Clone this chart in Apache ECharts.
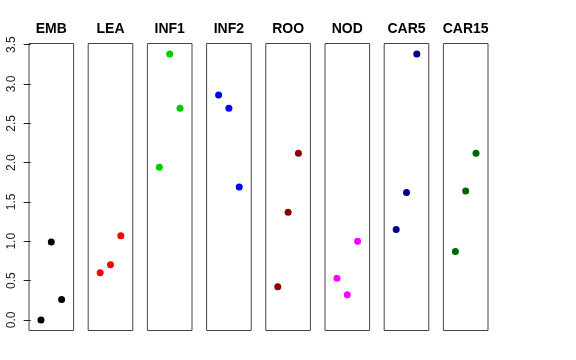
<!DOCTYPE html>
<html>
<head>
<meta charset="utf-8">
<script src="https://cdn.jsdelivr.net/npm/echarts@6/dist/echarts.min.js"></script>
<style>html,body{margin:0;padding:0;background:#fff;}#c{width:576px;height:360px;}</style>
</head>
<body>
<div id="c"></div>
<script>
const categories = ['EMB','LEA','INF1','INF2','ROO','NOD','CAR5','CAR15'];
const xPositions = [1, 2, 3];
const embValues  = [0.00, 0.99, 0.26];
const leaValues  = [0.60, 0.70, 1.07];
const inf1Values = [1.94, 3.38, 2.69];
const inf2Values = [2.86, 2.69, 1.69];
const rooValues  = [0.42, 1.37, 2.12];
const nodValues  = [0.53, 0.32, 1.00];
const car5Values = [1.15, 1.62, 3.38];
const car15Values= [0.87, 1.64, 2.12];
const yTicks = [0, 0.5, 1.0, 1.5, 2.0, 2.5, 3.0, 3.5];
const colors = ['#000000','#FF0000','#00CD00','#0000FF','#8B0000','#FF00FF','#00008B','#006400'];

const allValues = [embValues, leaValues, inf1Values, inf2Values, rooValues, nodValues, car5Values, car15Values];

(function () {
const chart = echarts.init(document.getElementById('c'), null, {renderer:'canvas'});
const grids = [], xAxes = [], yAxes = [], series = [], titles = [];
const left0 = 29, stride = 59.2, gw = 44.6, gTop = 43.5, gh = 287;
const yMin = -0.135, yMax = 3.515;
categories.forEach((cat, i) => {
  const l = left0 + i * stride;
  grids.push({left: l, top: gTop, width: gw, height: gh, show: true, borderColor: '#444', borderWidth: 1, backgroundColor: 'transparent'});
  xAxes.push({type: 'value', gridIndex: i, min: -0.16, max: 4.16, show: false});
  yAxes.push({
    type: 'value', gridIndex: i, min: yMin, max: yMax,
    show: i === 0,
    axisLine: {show: false},
    splitLine: {show: false},
    axisTick: {show: i === 0, length: 7, customValues: yTicks, lineStyle: {color: '#222'}},
    axisLabel: {show: i === 0, customValues: yTicks, rotate: 90, margin: 11, fontSize: 12,
      fontFamily: 'Liberation Sans, Arial, sans-serif', color: '#222',
      formatter: v => v.toFixed(1)}
  });
  series.push({
    type: 'scatter', xAxisIndex: i, yAxisIndex: i, symbol: 'circle', symbolSize: 7,
    itemStyle: {color: colors[i], opacity: 1}, silent: true,
    data: xPositions.map((x, j) => [x, allValues[i][j]])
  });
  titles.push({text: cat, left: l + gw / 2, top: 22, textAlign: 'center', padding: 0,
    textStyle: {fontSize: 14, fontWeight: 'bold', color: '#000', fontFamily: 'Liberation Sans, Arial, sans-serif'}});
});
chart.setOption({
  animation: false,
  backgroundColor: '#fff',
  title: titles,
  grid: grids,
  xAxis: xAxes,
  yAxis: yAxes,
  series: series
});
})();
</script>
</body>
</html>
